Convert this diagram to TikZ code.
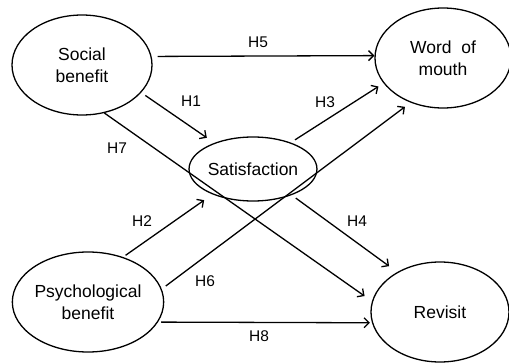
\documentclass[tikz,border=0pt]{standalone}
\usepackage{fontspec}
\setmainfont{Liberation Sans}
\usetikzlibrary{arrows.meta,shapes.geometric}

\begin{document}
\begin{tikzpicture}[x=1pt,y=-1pt,
  lv/.style={draw,ellipse,line width=1.3pt,inner sep=0pt,align=center,font=\fontsize{17.5}{22}\selectfont},
  hyp/.style={-{Straight Barb[length=5pt,width=10pt]},line width=1.3pt},
  lbl/.style={inner sep=0pt,font=\fontsize{15.5}{18}\selectfont}]
  \useasboundingbox (0,0) rectangle (509,364);
  \node[lv,minimum width=140pt,minimum height=100pt] (sb) at (82,65) {Social\\benefit};
  \node[lv,minimum width=136pt,minimum height=100pt] (wom) at (443,58) {Word\ \ of\\mouth};
  \node[lv,minimum width=104pt,minimum height=64pt] (sat) at (253,169) {Satisfaction};
  \node[lv,minimum width=150pt,minimum height=100pt] (pb) at (88,302) {Psychological\\benefit};
  \node[lv,minimum width=138pt,minimum height=100pt] (rv) at (440,312) {Revisit};
  % hypotheses
  \draw[hyp,shorten <=6pt] (sb.7) -- (wom.178);
  \draw[hyp,shorten <=5pt,shorten >=9pt] (sb.-25) -- (sat.146);
  \draw[hyp,shorten >=9pt] (sb.-65) -- (rv.171);
  \draw[hyp,shorten <=5pt,shorten >=6pt] (sat.35) -- (wom.-157);
  \draw[hyp,shorten <=3pt,shorten >=10pt] (pb.52) -- (sat.-148);
  \draw[hyp,shorten <=5pt,shorten >=7pt] (pb.10) -- (wom.-126);
  \draw[hyp,shorten <=5pt,shorten >=10pt] (sat.-34) -- (rv.137);
  \draw[hyp,shorten <=3pt,shorten >=2pt] (pb.-16) -- (rv.-171);
  \node[lbl] (h1) at (191,101) {H1};
  \node[lbl] (h2) at (142,221) {H2};
  \node[lbl] (h3) at (325,102) {H3};
  \node[lbl] (h4) at (357,221) {H4};
  \node[lbl] (h5) at (258,42) {H5};
  \node[lbl] (h6) at (205,281) {H6};
  \node[lbl] (h7) at (117,148) {H7};
  \node[lbl] (h8) at (259,336) {H8};
\end{tikzpicture}
\end{document}
